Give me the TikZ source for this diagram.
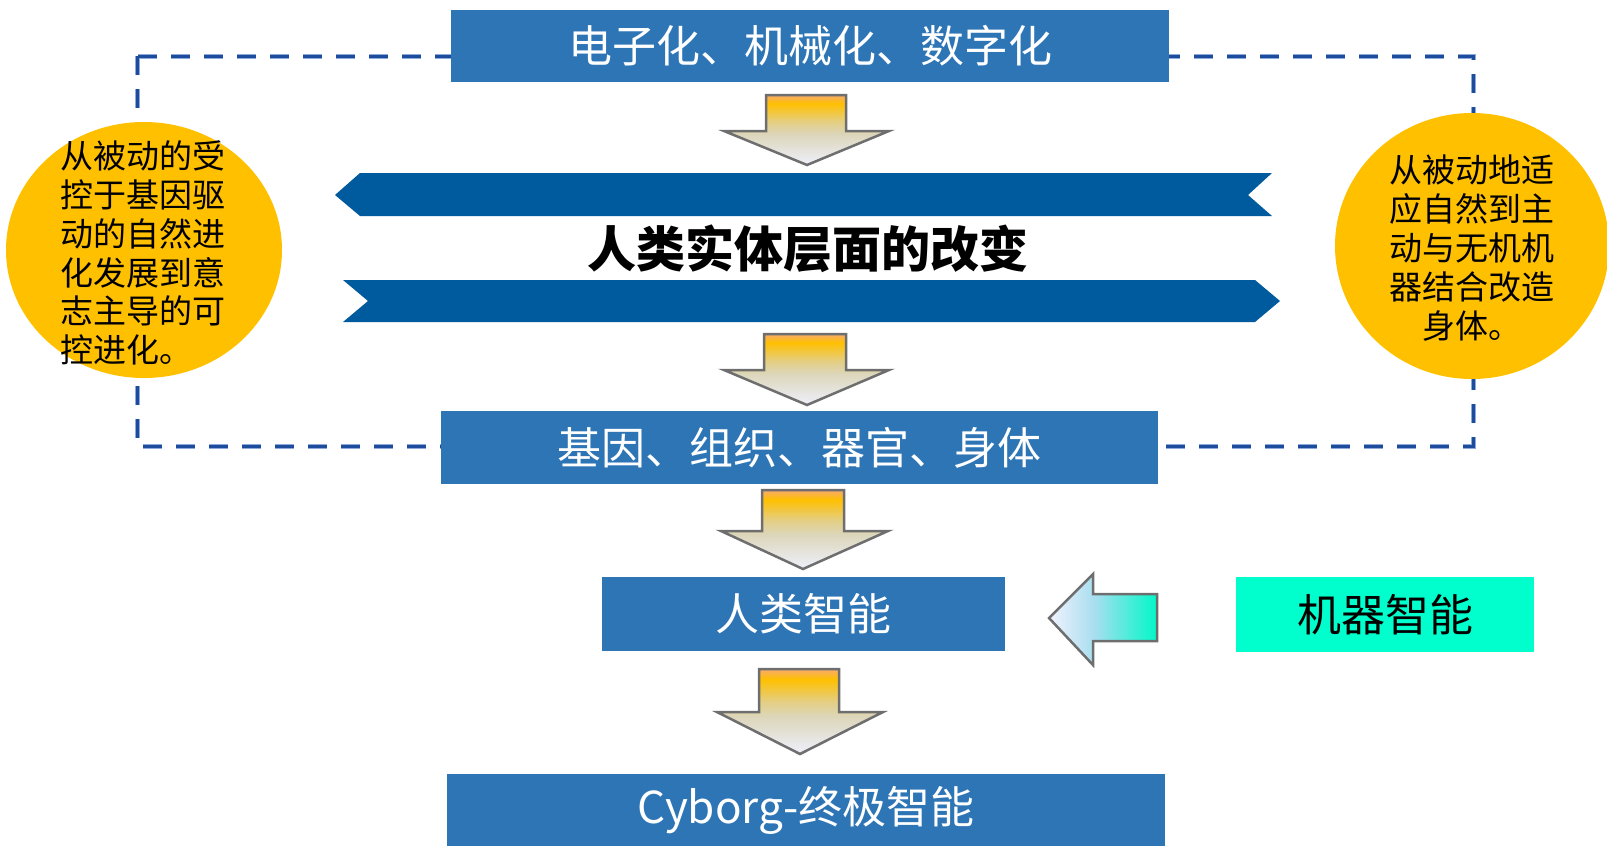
\documentclass[tikz,border=0pt]{standalone}
\usepackage{fontspec}
\setmainfont{Noto Sans CJK SC}
\usetikzlibrary{shapes.geometric}
\definecolor{boxblue}{RGB}{46,117,182}
\definecolor{bannerblue}{RGB}{0,90,158}
\definecolor{gold}{RGB}{255,192,0}
\definecolor{mint}{RGB}{0,255,204}
\definecolor{dashdark}{RGB}{30,76,156}
\definecolor{dashlight}{RGB}{142,169,219}
\definecolor{arrowline}{RGB}{110,110,110}
\definecolor{ashTop}{RGB}{248,170,110}
\definecolor{ashGold}{RGB}{255,192,0}
\definecolor{ashMid}{RGB}{228,206,130}
\definecolor{ashBeige}{RGB}{220,214,186}
\definecolor{ashBot}{RGB}{238,240,252}
\definecolor{cyL}{RGB}{242,242,255}
\definecolor{cyM}{RGB}{168,222,240}
\definecolor{cyR}{RGB}{0,248,200}
\pgfdeclareverticalshading{arrowshade}{100bp}{color(0bp)=(ashBot); color(25bp)=(ashBot); color(47bp)=(ashBeige); color(56bp)=(ashMid); color(69bp)=(ashGold); color(75bp)=(ashTop); color(100bp)=(ashTop)}
\pgfdeclarehorizontalshading{cyanshade}{100bp}{color(0bp)=(cyL); color(25bp)=(cyL); color(46bp)=(cyM); color(75bp)=(cyR); color(100bp)=(cyR)}
\tikzset{
  bluebox/.style={rectangle, fill=boxblue, text=white, inner sep=0pt, font=\fontsize{44pt}{50pt}\selectfont},
  blockarrow/.style={shading=arrowshade, draw=arrowline, line width=2.5pt, line join=miter},
  banner/.style={fill=bannerblue},
  goldcirc/.style={ellipse, fill=gold, inner sep=0pt},
  circtext/.style={inner sep=0pt, text=black, font=\fontsize{33pt}{38.8pt}\selectfont},
  dashlight/.style={draw=dashlight, line width=5pt, dash pattern=on 19pt off 14pt},
  dashdark/.style={draw=dashdark, line width=3pt, dash pattern=on 19pt off 14pt}
}
\newcommand\dnarrow[8]{\draw[blockarrow] (#1,#5) -- (#2,#5) -- (#2,#6) -- (#4,#6) -- (#7,#8) -- (#3,#6) -- (#1,#6) -- cycle;}
\begin{document}
\begin{tikzpicture}[x=1pt,y=-1pt]
\useasboundingbox (0,0) rectangle (1607,846);
% dashed frame
\coordinate (fa) at (137,56);
\coordinate (fb) at (1473,446);
\draw[dashlight] (fa) rectangle (fb);
\draw[dashdark] (fa) rectangle (fb);
% circles
\node[goldcirc, minimum width=276pt, minimum height=256pt] (lcirc) at (144,250) {};
\node[goldcirc, minimum width=274pt, minimum height=266pt] (rcirc) at (1472,246) {};
\node[circtext, align=left] (ltext) at (143,253) {从被动的受\\控于基因驱\\动的自然进\\化发展到意\\志主导的可\\控进化。};
\node[circtext, align=center] (rtext) at (1472,248) {从被动地适\\应自然到主\\动与无机机\\器结合改造\\身体。};
% banners
\fill[banner] (335,195) -- (360,173) -- (1272,173) -- (1248,195) -- (1272,216) -- (360,216) -- cycle;
\fill[banner] (343,280) -- (1255,280) -- (1280,301) -- (1255,322) -- (343,322) -- (368,301) -- cycle;
\node[inner sep=0pt, font=\fontsize{49pt}{56pt}\selectfont\bfseries] (title) at (808,249) {人类实体层面的改变};
% boxes
\node[bluebox, minimum width=718pt, minimum height=72pt] (b1) at (810,46) {电子化、机械化、数字化};
\node[bluebox, minimum width=717pt, minimum height=73pt] (b2) at (799.5,447.5) {基因、组织、器官、身体};
\node[bluebox, minimum width=403pt, minimum height=74pt] (b3) at (803.5,614) {人类智能};
\node[rectangle, fill=mint, text=black, inner sep=0pt, minimum width=298pt, minimum height=75pt, font=\fontsize{44pt}{50pt}\selectfont] (mi) at (1385,614.5) {机器智能};
\node[bluebox, minimum width=718pt, minimum height=72pt] (b5) at (806,810) {Cyborg-终极智能};
% block arrows
\dnarrow{766}{846}{724}{889}{95}{131}{807}{165}
\dnarrow{764}{846}{724}{889}{334}{370}{807}{405}
\dnarrow{762}{844}{721}{888}{490}{531}{803}{569}
\dnarrow{759}{839}{717}{883}{669}{712}{800}{754}
\draw[shading=cyanshade, draw=arrowline, line width=2.5pt, line join=miter] (1049,618) -- (1093,574) -- (1093,594) -- (1157,594) -- (1157,641) -- (1093,641) -- (1093,665) -- cycle;
\end{tikzpicture}
\end{document}
